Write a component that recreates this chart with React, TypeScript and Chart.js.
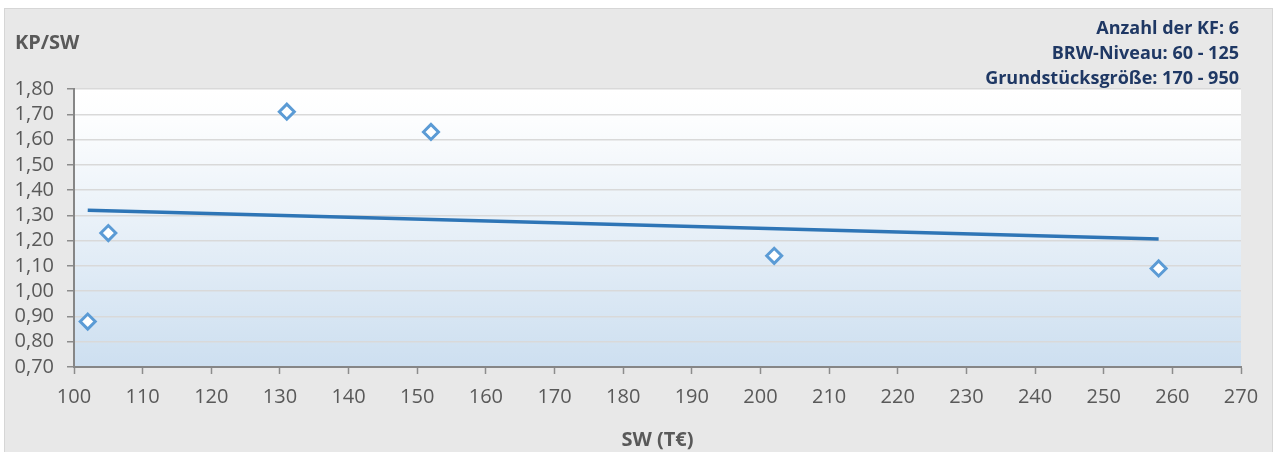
import React, { useEffect, useRef } from "react";
import { Chart, registerables } from "chart.js";

Chart.register(...registerables);

const swValues: number[] = [102, 105, 131, 152, 202, 258];
const kpSwValues: number[] = [0.88, 1.23, 1.71, 1.63, 1.14, 1.09];
const trendX: number[] = [102, 258];
const trendY: number[] = [1.32, 1.206];
const yAxisTitle = "KP/SW";
const xAxisTitle = "SW (T€)";
const infoLines: string[] = [
  "Anzahl der KF: 6",
  "BRW-Niveau: 60 - 125",
  "Grundstücksgröße: 170 - 950",
];

const FONT = "'Open Sans', 'Noto Sans', sans-serif";

export default function App() {
  const ref = useRef<HTMLCanvasElement | null>(null);

  useEffect(() => {
    const canvas = ref.current;
    if (!canvas) return;

    const bgPlugin = {
      id: "plotBg",
      beforeDraw(chart: any) {
        const { ctx, chartArea } = chart;
        if (!chartArea) return;
        const g = ctx.createLinearGradient(0, chartArea.top, 0, chartArea.bottom);
        g.addColorStop(0, "#ffffff");
        g.addColorStop(0.12, "#fcfdfe");
        g.addColorStop(1, "#cddff0");
        ctx.save();
        ctx.fillStyle = g;
        ctx.fillRect(chartArea.left, chartArea.top, chartArea.right - chartArea.left, chartArea.bottom - chartArea.top);
        ctx.restore();
      },
    };

    const textPlugin = {
      id: "texts",
      afterDraw(chart: any) {
        const { ctx } = chart;
        ctx.save();
        ctx.textBaseline = "middle";
        ctx.font = `bold 20px ${FONT}`;
        ctx.fillStyle = "#595959";
        ctx.textAlign = "left";
        ctx.fillText(yAxisTitle, 10, 34.5);
        ctx.font = `bold 18px ${FONT}`;
        ctx.fillStyle = "#1f3864";
        ctx.textAlign = "right";
        infoLines.forEach((t, i) => {
          ctx.fillText(t, 1234, 19.5 + i * 25);
        });
        ctx.restore();
      },
    };

    const chart = new Chart(canvas, {
      type: "scatter",
      data: {
        datasets: [
          {
            label: "KP/SW",
            data: swValues.map((x, i) => ({ x, y: kpSwValues[i] })),
            pointStyle: "rectRot",
            pointRadius: 7.5,
            pointBackgroundColor: "#ffffff",
            pointBorderColor: "#5b9bd5",
            pointBorderWidth: 3,
            showLine: false,
            order: 0,
          },
          {
            label: "Trend",
            data: trendX.map((x, i) => ({ x, y: trendY[i] })),
            showLine: true,
            borderColor: "#2e75b6",
            borderWidth: 3.5,
            pointRadius: 0,
            order: 1,
          },
        ],
      },
      options: {
        responsive: false,
        animation: false,
        devicePixelRatio: 1,
        layout: { padding: { top: 80, left: 0, right: 31, bottom: 0 } },
        plugins: {
          legend: { display: false },
          tooltip: { enabled: false },
          title: { display: false },
        },
        scales: {
          x: {
            type: "linear",
            min: 100,
            max: 270,
            afterFit(scale: any) {
              scale.height = 85;
            },
            ticks: {
              stepSize: 10,
              padding: 11,
              color: "#595959",
              font: { family: FONT, size: 20 },
              maxRotation: 0,
              autoSkip: false,
            },
            grid: {
              drawOnChartArea: false,
              drawTicks: true,
              tickLength: 7,
              tickColor: "#8c8c8c",
              tickWidth: 1.5,
            },
            border: { color: "#868686", width: 2 },
            title: {
              display: true,
              text: xAxisTitle,
              color: "#595959",
              font: { family: FONT, size: 20, weight: "bold" },
              padding: { top: 0, bottom: 0 },
            },
          },
          y: {
            type: "linear",
            min: 0.7,
            max: 1.8,
            afterFit(scale: any) {
              scale.width = 69;
            },
            ticks: {
              stepSize: 0.1,
              padding: 13,
              color: "#595959",
              font: { family: FONT, size: 20, lineHeight: 1.0 },
              autoSkip: false,
              callback: (v: any) => Number(v).toFixed(2).replace(".", ","),
            },
            grid: {
              color: "#d9d9d9",
              lineWidth: 1.5,
              drawTicks: true,
              tickLength: 7,
              tickColor: "#8c8c8c",
              tickWidth: 1.5,
            },
            border: { color: "#868686", width: 2 },
          },
        },
      },
      plugins: [bgPlugin, textPlugin],
    } as any);

    return () => chart.destroy();
  }, []);

  return (
    <div
      style={{
        position: "absolute",
        left: 4,
        top: 8,
        width: 1269,
        height: 444,
        boxSizing: "border-box",
        background: "#e8e8e8",
        borderLeft: "1px solid #d6d6d6",
        borderTop: "1px solid #d6d6d6",
        borderRight: "1px solid #d6d6d6",
      }}
    >
      <canvas
        ref={ref}
        width={1267}
        height={443}
        style={{ position: "absolute", left: 0, top: 0, width: 1267, height: 443 }}
      />
    </div>
  );
}
